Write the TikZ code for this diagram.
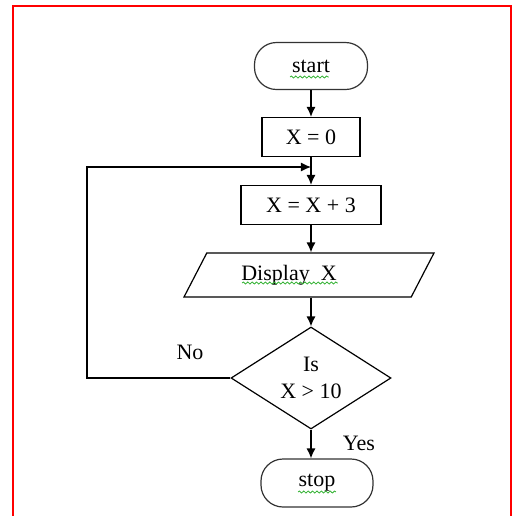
\documentclass[tikz,border=0pt]{standalone}
\usepackage{fontspec}
\setmainfont{Liberation Serif}
\usetikzlibrary{shapes.geometric,arrows.meta,decorations.pathmorphing}

\newlength{\du}
\setlength{\du}{0.5pt}
\definecolor{framecolor}{rgb}{1.000000, 0.000000, 0.000000}
\definecolor{squigglecolor}{rgb}{0.200000, 0.700000, 0.200000}
\definecolor{dialinecolor}{rgb}{0.000000, 0.000000, 0.000000}

\tikzset{
  termbox/.style={draw=dialinecolor!80, line width=0.6pt, rounded corners=22\du,
    minimum width=113\du, minimum height=47\du, inner sep=0pt},
  procbox/.style={draw=dialinecolor, line width=0.6pt, minimum height=39\du, inner sep=0pt},
  iobox/.style={draw=dialinecolor, line width=0.6pt, trapezium, trapezium left angle=41.3,
    trapezium right angle=138.7, trapezium stretches body=true,
    minimum width=250\du, minimum height=44\du, inner sep=0pt},
  decbox/.style={draw=dialinecolor, line width=0.6pt, diamond, aspect=1.57,
    minimum width=160\du, minimum height=102\du, inner sep=0pt, align=center},
  flow/.style={-{Latex[length=5pt,width=4.5pt]}, line width=0.6pt},
  squiggle/.style={draw=squigglecolor, line width=0.4pt, decorate,
    decoration={snake, amplitude=0.5pt, segment length=2.2pt}}
}

\begin{document}
\begin{tikzpicture}
\tikzstyle{every node}=[font=\fontsize{11}{13.5}\selectfont]
\pgftransformyscale{-1.000000}
\useasboundingbox (0\du,0\du) rectangle (514\du,516\du);
% frame
\draw[framecolor, line width=1pt] (13\du,516\du)--(13\du,6\du)--(511\du,6\du)--(511\du,516\du);
% boxes
\node[termbox] (start) at (311\du,66\du) {start};
\node[procbox, minimum width=98\du] (x0) at (311\du,137\du) {X = 0};
\node[procbox, minimum width=140\du] (x3) at (311\du,205\du) {X = X + 3};
\node[iobox] (disp) at (309\du,275\du) {Display\ \ X\hspace{40\du}\null};
\node[decbox] (test) at (311\du,378\du) {Is\\X > 10};
\node[termbox, minimum width=112\du, minimum height=48\du] (stop) at (317\du,483\du) {stop};
\node (no) at (190\du,352\du) {No};
\node (yes) at (359\du,443\du) {Yes};
\coordinate (merge) at (311\du,167\du);
\coordinate (turn) at (87\du,167\du);
% arrows
\draw[flow] (start) -- (x0);
\draw[flow] (x0) -- (x3);
\draw[flow] (x3) -- (x3 |- disp.north);
\draw[flow] (test |- disp.south) -- (test);
\draw[flow] (test.south) -- (test.south |- stop.north);
\draw[flow] (test.west) -| (turn) -- (merge);
% spell check marks
\draw[squiggle] (290\du,77\du) -- (329\du,77\du);
\draw[squiggle] (242\du,283\du) -- (338\du,283\du);
\draw[squiggle] (298\du,492\du) -- (336\du,492\du);
\end{tikzpicture}
\end{document}
